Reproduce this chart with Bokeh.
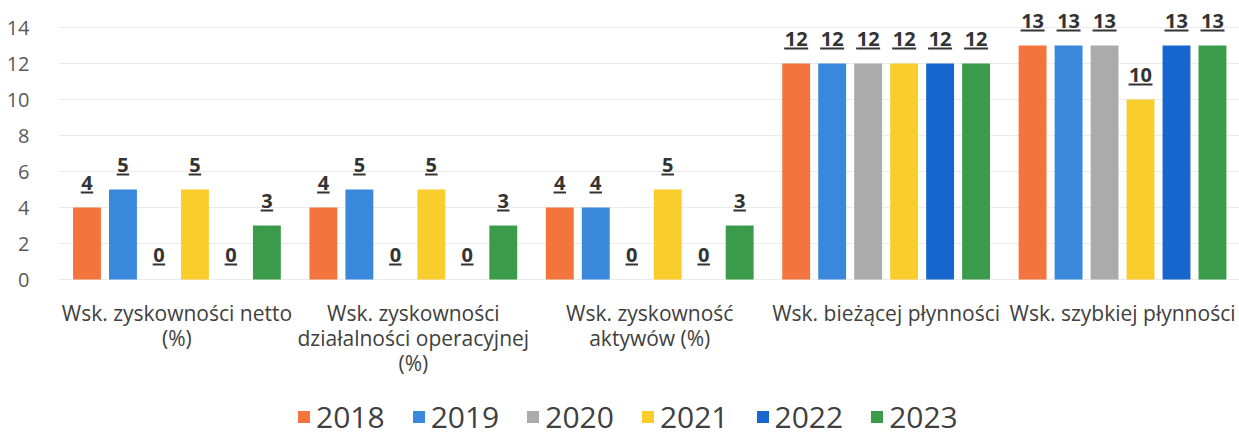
from bokeh.plotting import figure
from bokeh.models import ColumnDataSource, FixedTicker, Range1d, Legend, LegendItem
from bokeh.embed import file_html
from bokeh.resources import INLINE
from bokeh.core.properties import value

categories = [
    "Wsk. zyskowności netto\n(%)",
    "Wsk. zyskowności\ndziałalności operacyjnej\n(%)",
    "Wsk. zyskowność\naktywów (%)",
    "Wsk. bieżącej płynności",
    "Wsk. szybkiej płynności",
]
years = ["2018", "2019", "2020", "2021", "2022", "2023"]
v2018 = [4, 4, 4, 12, 13]
v2019 = [5, 5, 4, 12, 13]
v2020 = [0, 0, 0, 12, 13]
v2021 = [5, 5, 5, 12, 10]
v2022 = [0, 0, 0, 12, 13]
v2023 = [3, 3, 3, 12, 13]
series = [v2018, v2019, v2020, v2021, v2022, v2023]
colors = ["#F4743D", "#3A88DC", "#ABABAB", "#F9CE2C", "#1766CE", "#3A9B4B"]
y_ticks = [0, 2, 4, 6, 8, 10, 12, 14]

FONT = "Open Sans"
W, H = 1239, 438
LEFT = 58
Y_START, Y_END = -(438 - 279) / 18, 279 / 18
X_START = -0.501
X_END = X_START + (W - LEFT) / 236.4
px_per_y = H / (Y_END - Y_START)
slot = 0.1522
bar_w = 0.118

p = figure(width=W, height=H,
           x_range=Range1d(X_START, X_END), y_range=Range1d(Y_START, Y_END),
           output_backend="svg", toolbar_location=None,
           min_border_left=LEFT, min_border_right=0, min_border_top=0, min_border_bottom=0)
p.outline_line_color = None
p.background_fill_color = "white"

p.xgrid.visible = False
p.ygrid.ticker = FixedTicker(ticks=y_ticks)
p.ygrid.grid_line_color = "#ebebeb"

p.yaxis.ticker = FixedTicker(ticks=y_ticks)
p.yaxis.axis_line_color = None
p.yaxis.major_tick_line_color = None
p.yaxis.minor_tick_line_color = None
p.yaxis.major_label_standoff = 23
p.yaxis.major_label_text_font = FONT
p.yaxis.major_label_text_font_size = "20px"
p.yaxis.major_label_text_color = "#595959"

p.xaxis.fixed_location = 0
p.xaxis.ticker = FixedTicker(ticks=list(range(len(categories))))
p.xaxis.major_label_overrides = {i: c for i, c in enumerate(categories)}
p.xaxis.axis_line_color = None
p.xaxis.major_tick_line_color = None
p.xaxis.minor_tick_line_color = None
p.xaxis.major_tick_out = 0
p.xaxis.major_label_standoff = 19
p.xaxis.major_label_text_font = FONT
p.xaxis.major_label_text_font_size = "21px"
p.xaxis.major_label_text_color = "#404040"
p.xaxis.major_label_text_line_height = 0.9

items = []
for j, (yr, vals) in enumerate(zip(years, series)):
    xs = [i + (j - 2.5) * slot for i in range(len(vals))]
    src = ColumnDataSource(dict(
        x=xs, top=vals,
        lab=[str(v) for v in vals],
        uy=[v + 15 / px_per_y for v in vals],
        uw=[len(str(v)) * 11.5 + 1 for v in vals],
    ))
    r = p.vbar(x="x", top="top", width=bar_w, bottom=0, source=src,
               fill_color=colors[j], line_color=None)
    p.text(x="x", y="top", text="lab", source=src, y_offset=-25,
           text_align="center", text_baseline="alphabetic",
           text_font=value(FONT), text_font_style="bold",
           text_font_size="20px", text_color="#333333")
    p.scatter(x="x", y="uy", size="uw", marker="dash", source=src,
              line_color="#333333", line_width=2)
    items.append(LegendItem(label=yr, renderers=[r]))

legend = Legend(items=items, orientation="horizontal", location=(238, 1),
                glyph_width=15, glyph_height=15, label_standoff=5, spacing=26,
                padding=0, margin=0, border_line_color=None, background_fill_alpha=0,
                label_text_font=FONT, label_text_font_size="30px",
                label_text_color="#404040")
p.add_layout(legend)

open("out.html", "w").write(file_html(p, INLINE))
